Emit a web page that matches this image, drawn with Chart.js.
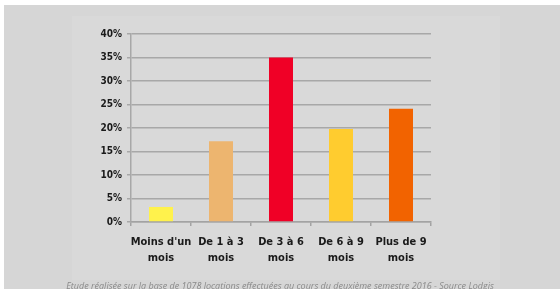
<!DOCTYPE html>
<html>
<head>
<meta charset="utf-8">
<script src="https://cdn.jsdelivr.net/npm/chart.js@4"></script>
<style>
  body { margin: 0; background: #fff; }
  #wrap { position: relative; width: 560px; height: 289px; overflow: hidden; }
  #bg { position: absolute; left: 4px; top: 5px; right: 0; bottom: 0; background: #d6d6d6; }
  #panel { position: absolute; left: 72px; top: 16px; width: 428px; height: 264px; background: #d9d9d9; }
  #chart { position: absolute; left: 0; top: 0; }
  #note { position: absolute; left: 0; width: 560px; top: 279px; text-align: center;
    font: italic 9px "Open Sans", sans-serif; color: #8a8a8a; white-space: nowrap; }
</style>
</head>
<body>
<div id="wrap">
  <div id="bg"></div>
  <div id="panel"></div>
  <canvas id="chart" width="560" height="289"></canvas>
  <div id="note">Etude réalisée sur la base de 1078 locations effectuées au cours du deuxième semestre 2016 - Source Lodgis</div>
</div>
<script>
const categories = [
  ["Moins d'un", "mois"],
  ["De 1 à 3", "mois"],
  ["De 3 à 6", "mois"],
  ["De 6 à 9", "mois"],
  ["Plus de 9", "mois"]
];
const shares = [3.2, 17.2, 35.0, 19.8, 24.1];
const barColors = ['#fff24c', '#edb56f', '#f00026', '#ffcc2f', '#f26300'];

const labelFont = '"Liberation Sans Narrow", "DejaVu Sans Condensed", "Liberation Sans", sans-serif';

const ctx = document.getElementById('chart').getContext('2d');
new Chart(ctx, {
  type: 'bar',
  data: {
    labels: categories,
    datasets: [{
      data: shares,
      backgroundColor: barColors,
      borderWidth: 0,
      barPercentage: 0.4,
      categoryPercentage: 1
    }]
  },
  options: {
    responsive: false,
    animation: false,
    layout: { padding: { top: 34, right: 129, left: 0, bottom: 0 } },
    plugins: { legend: { display: false }, tooltip: { enabled: false } },
    scales: {
      x: {
        grid: { drawOnChartArea: false, drawTicks: true, tickLength: 4, color: '#a3a3a3', lineWidth: 1.5 },
        border: { color: '#a3a3a3', width: 1.5 },
        ticks: {
          color: '#1a1a1a',
          padding: 8,
          autoSkip: false,
          maxRotation: 0,
          font: { family: labelFont, weight: 'bold', size: 11, lineHeight: 1.45 }
        },
        afterFit: s => { s.height = 67; }
      },
      y: {
        min: 0,
        max: 40,
        ticks: {
          stepSize: 5,
          padding: 5,
          color: '#1a1a1a',
          font: { family: labelFont, weight: 'bold', size: 10 },
          callback: v => v + '%'
        },
        grid: { color: '#a8a8a8', lineWidth: 1.5, tickLength: 4 },
        border: { color: '#a8a8a8', width: 1.5 },
        afterFit: s => { s.width = 131; }
      }
    }
  }
});
</script>
</body>
</html>
